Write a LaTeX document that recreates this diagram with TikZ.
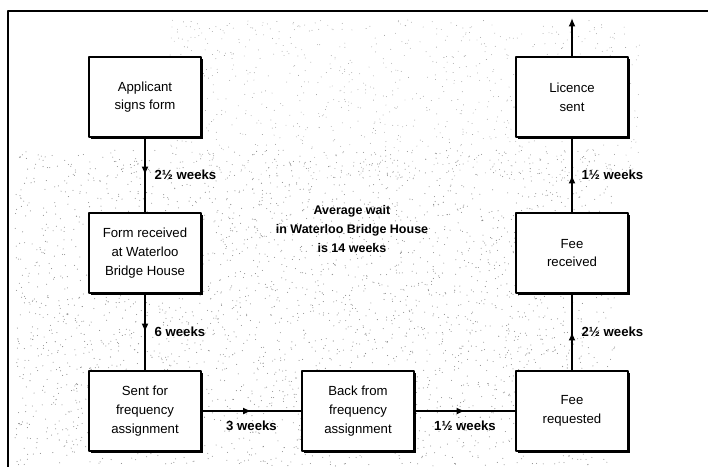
\documentclass[tikz,border=0pt]{standalone}
\usepackage{fontspec}
\setmainfont{Liberation Sans}
\usetikzlibrary{arrows.meta,decorations.markings,shadows}

\begin{document}
\begin{tikzpicture}[x=0.72pt, y=-0.72pt, line join=round, >={Latex[length=6pt,width=5pt]},
		stagebox/.style={draw, line width=1.7pt, fill=white, align=center, minimum width=81pt, minimum height=58pt,
			font=\fontsize{9.5}{13.5}\selectfont,
			drop shadow={shadow xshift=1.4pt, shadow yshift=-1.4pt, fill=black, opacity=1}},
		conn/.style={line width=1.9pt, postaction={decorate},
			decoration={markings, mark=at position .5 with {\arrow{>}}}},
		lbl/.style={font=\fontsize{9.5}{11}\selectfont\bfseries, inner sep=1pt}]
	\useasboundingbox (0,0) rectangle (708,466);
	% speckled background
	\pgfmathsetseed{11}
	\foreach \i in {1,...,3200} \fill[black!45] ({15+600*rnd},{150+316*rnd}) circle (0.38pt);
	\foreach \i in {1,...,900} \fill[black!40] ({170+470*rnd},{20+160*rnd}) circle (0.32pt);
	% frame
	\draw[line width=1.4pt] (8,470) -- (8,11) -- (712,11);
	% stages
	\node[stagebox] (apply) at (145,97) {Applicant\\signs form};
	\node[stagebox] (form) at (145,253) {Form received\\at Waterloo\\Bridge House};
	\node[stagebox] (sent) at (145,411) {Sent for\\frequency\\assignment};
	\node[stagebox] (back) at (358,411) {Back from\\frequency\\assignment};
	\node[stagebox] (feereq) at (572,411) {Fee\\requested};
	\node[stagebox] (feerec) at (572,253) {Fee\\received};
	\node[stagebox] (licence) at (572,97) {Licence\\sent};
	\coordinate (out) at (572,18);
	% waits
	\draw[conn] (apply) -- (form) node[lbl, midway, right=5pt] {2½ weeks};
	\draw[conn] (form) -- (sent) node[lbl, midway, right=5pt] {6 weeks};
	\draw[conn] (sent) -- (back) node[lbl, midway, below=5pt] {3 weeks};
	\draw[conn] (back) -- (feereq) node[lbl, midway, below=5pt] {1½ weeks};
	\draw[conn] (feereq) -- (feerec) node[lbl, midway, right=5pt] {2½ weeks};
	\draw[conn] (feerec) -- (licence) node[lbl, midway, right=5pt] {1½ weeks};
	\draw[line width=1.9pt, ->] (licence) -- (out);
	\node[lbl, align=center, font=\fontsize{9}{14}\selectfont\bfseries] (avg) at (352,229) {Average wait\\in Waterloo Bridge House\\is 14 weeks};
\end{tikzpicture}
\end{document}
